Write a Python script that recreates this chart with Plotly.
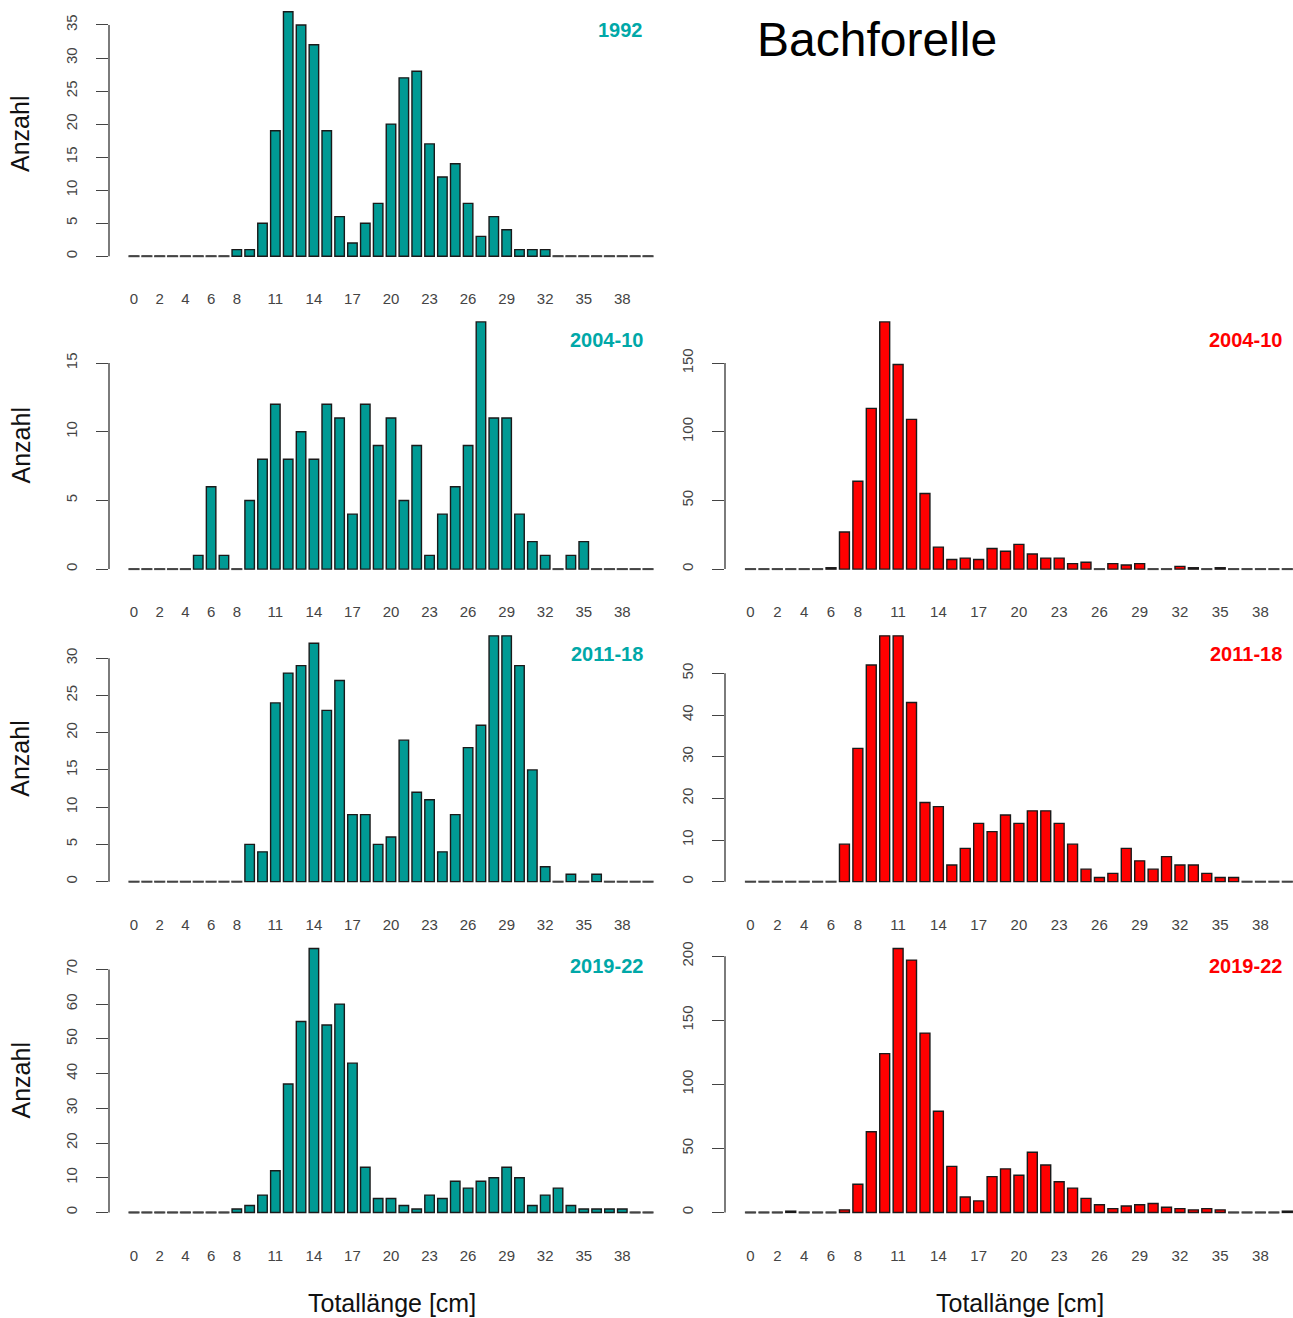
import plotly.graph_objects as go

# ---------------- data ----------------
lengths = list(range(41))  # Totallänge classes 0..40 cm
x_tick_labels = [0, 2, 4, 6, 8, 11, 14, 17, 20, 23, 26, 29, 32, 35, 38]

left_1992 = [0, 0, 0, 0, 0, 0, 0, 0, 1, 1, 5, 19, 37, 35, 32, 19, 6, 2, 5, 8, 20,
             27, 28, 17, 12, 14, 8, 3, 6, 4, 1, 1, 1, 0, 0, 0, 0, 0, 0, 0, 0]
left_2004_10 = [0, 0, 0, 0, 0, 1, 6, 1, 0, 5, 8, 12, 8, 10, 8, 12, 11, 4, 12, 9, 11,
                5, 9, 1, 4, 6, 9, 18, 11, 11, 4, 2, 1, 0, 1, 2, 0, 0, 0, 0, 0]
right_2004_10 = [0, 0, 0, 0, 0, 0, 1, 27, 64, 117, 180, 149, 109, 55, 16, 7, 8, 7, 15, 13, 18,
                 11, 8, 8, 4, 5, 0, 4, 3, 4, 0, 0, 2, 1, 0, 1, 0, 0, 0, 0, 0]
left_2011_18 = [0, 0, 0, 0, 0, 0, 0, 0, 0, 5, 4, 24, 28, 29, 32, 23, 27, 9, 9, 5, 6,
                19, 12, 11, 4, 9, 18, 21, 33, 33, 29, 15, 2, 0, 1, 0, 1, 0, 0, 0, 0]
right_2011_18 = [0, 0, 0, 0, 0, 0, 0, 9, 32, 52, 59, 59, 43, 19, 18, 4, 8, 14, 12, 16, 14,
                 17, 17, 14, 9, 3, 1, 2, 8, 5, 3, 6, 4, 4, 2, 1, 1, 0, 0, 0, 0]
left_2019_22 = [0, 0, 0, 0, 0, 0, 0, 0, 1, 2, 5, 12, 37, 55, 76, 54, 60, 43, 13, 4, 4,
                2, 1, 5, 4, 9, 7, 9, 10, 13, 10, 2, 5, 7, 2, 1, 1, 1, 1, 0, 0]
right_2019_22 = [0, 0, 0, 1, 0, 0, 0, 2, 22, 63, 124, 206, 197, 140, 79, 36, 12, 9, 28, 34, 29,
                 47, 37, 24, 19, 11, 6, 3, 5, 6, 7, 4, 3, 2, 3, 2, 0, 0, 0, 0, 1]

panel_labels = ["1992", "2004-10", "2004-10", "2011-18", "2011-18", "2019-22", "2019-22"]
panel_rows = [0, 1, 1, 2, 2, 3, 3]
panel_cols = [0, 0, 1, 0, 1, 0, 1]
panel_values = [left_1992, left_2004_10, right_2004_10, left_2011_18,
                right_2011_18, left_2019_22, right_2019_22]
y_dticks = [5, 5, 50, 5, 10, 10, 50]
y_tick_max = [35, 15, 150, 30, 50, 70, 200]

title_text = "Bachforelle"
x_title = "Totallänge [cm]"
y_title = "Anzahl"

# ---------------- style / layout ----------------
W, H = 1293, 1318
TEAL = "#009a94"
TEAL_LABEL = "#00a8a8"
RED = "#ff0000"
col_fill = [TEAL, RED]
col_label = [TEAL_LABEL, RED]
FONT = "Liberation Sans, Arial, sans-serif"
GRAY = "#444444"

row_top = [2, 312, 626, 938]
row_bot = [266, 579, 891.5, 1223]
col_axis_px = [109, 725]
col_zero_px = [134, 750.5]
col_step = [12.85, 13.42]
col_right = [657, 1293]
label_right_px = [645, 1284]

fig = go.Figure()
shapes = []
annotations = []
layout = {}

for i in range(len(panel_values)):
    n = i + 1
    r, c = panel_rows[i], panel_cols[i]
    vals = panel_values[i]
    xa = "x" if n == 1 else f"x{n}"
    ya = "y" if n == 1 else f"y{n}"
    xkey = "xaxis" if n == 1 else f"xaxis{n}"
    ykey = "yaxis" if n == 1 else f"yaxis{n}"
    M = max(vals)

    fig.add_trace(go.Bar(
        x=lengths, y=vals, xaxis=xa, yaxis=ya, width=0.74,
        marker=dict(color=col_fill[c], line=dict(color="#1a1a1a", width=1.4)),
        showlegend=False, hoverinfo="x+y"))
    zeros = [L for L, v in zip(lengths, vals) if v == 0]
    fig.add_trace(go.Scatter(
        x=zeros, y=[0] * len(zeros), xaxis=xa, yaxis=ya, mode="markers",
        marker=dict(symbol="line-ew", size=8, color=GRAY,
                    line=dict(color=GRAY, width=2)),
        showlegend=False, hoverinfo="skip", cliponaxis=False))

    x0 = (col_axis_px[c] - col_zero_px[c]) / col_step[c]
    x1 = (col_right[c] - col_zero_px[c]) / col_step[c]
    layout[xkey] = dict(
        domain=[col_axis_px[c] / W, col_right[c] / W], range=[x0, x1],
        anchor=ya, tickmode="array", tickvals=x_tick_labels,
        ticktext=[str(t) for t in x_tick_labels], showgrid=False,
        zeroline=False, showline=False, ticks="", ticklabelstandoff=22,
        tickfont=dict(family=FONT, size=15, color=GRAY), fixedrange=True)
    dt = y_dticks[i]
    yt = list(range(0, y_tick_max[i] + 1, dt))
    layout[ykey] = dict(
        domain=[1 - row_bot[r] / H, 1 - row_top[r] / H],
        range=[-0.04 * M, 1.04 * M], anchor=xa, tickmode="array",
        tickvals=yt, ticktext=[str(t) for t in yt], ticks="outside",
        ticklen=12, tickwidth=1.4, tickcolor=GRAY, tickangle=-90,
        showgrid=False, zeroline=False, showline=False, ticklabelstandoff=13,
        tickfont=dict(family=FONT, size=15, color=GRAY), fixedrange=True)

    shapes.append(dict(type="line", xref=f"{xa} domain", yref=ya,
                       x0=0, x1=0, y0=0, y1=yt[-1],
                       line=dict(color=GRAY, width=1.4)))

    annotations.append(dict(
        text=f"<b>{panel_labels[i]}</b>", xref="paper", yref="paper",
        x=label_right_px[c] / W, y=1 - (row_top[r] + 28) / H,
        xanchor="right", yanchor="middle", showarrow=False,
        font=dict(family=FONT, size=20, color=col_label[c])))

    if c == 0:
        annotations.append(dict(
            text=y_title, xref="paper", yref="paper", x=20 / W,
            y=1 - ((row_top[r] + row_bot[r]) / 2) / H, textangle=-90,
            xanchor="center", yanchor="middle", showarrow=False,
            font=dict(family=FONT, size=25, color="#111111")))

for c, cx in enumerate([392, 1020]):
    annotations.append(dict(
        text=x_title, xref="paper", yref="paper", x=cx / W, y=1 - 1303 / H,
        xanchor="center", yanchor="middle", showarrow=False,
        font=dict(family=FONT, size=25, color="#111111")))

annotations.append(dict(
    text=title_text, xref="paper", yref="paper", x=877 / W, y=1 - 40 / H,
    xanchor="center", yanchor="middle", showarrow=False,
    font=dict(family=FONT, size=48, color="#000000")))

fig.update_layout(
    width=W, height=H, margin=dict(l=0, r=0, t=0, b=0),
    paper_bgcolor="white", plot_bgcolor="white", showlegend=False,
    bargap=0.24, shapes=shapes, annotations=annotations, **layout)

fig.write_html("out.html")
